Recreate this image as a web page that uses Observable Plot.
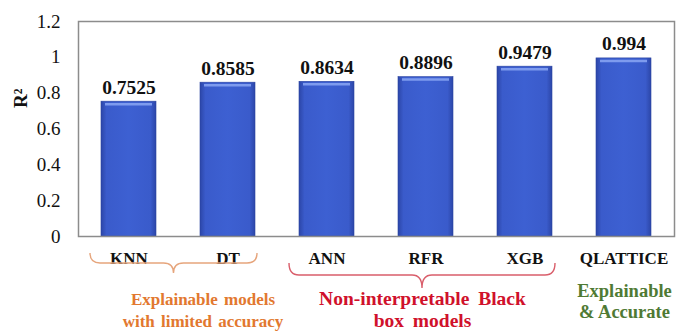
<!DOCTYPE html>
<html>
<head>
<meta charset="utf-8">
<script src="https://cdn.jsdelivr.net/npm/d3@7"></script>
<script src="https://cdn.jsdelivr.net/npm/@observablehq/plot@0.6"></script>
<style>
  html, body { margin: 0; padding: 0; background: #fff; }
  #chart { width: 679px; height: 331px; }
</style>
</head>
<body>
<div id="chart"></div>
<script>
// Model names and their coefficient of determination
const models = ["KNN", "DT", "ANN", "RFR", "XGB", "QLATTICE"];
const r2 = [0.7525, 0.8585, 0.8634, 0.8896, 0.9479, 0.994];
const yTicks = [0, 0.2, 0.4, 0.6, 0.8, 1, 1.2];

// Model families shown below the axis
const groupLines = [
  ["Explainable models", "with limited accuracy"],
  ["Non-interpretable Black", "box models"],
  ["Explainable", "& Accurate"]
];
const groupFrom = ["KNN", "ANN", "QLATTICE"];
const groupTo = ["DT", "XGB", "QLATTICE"];

// Presentation of each family label (brace geometry in px below the axis)
const groupStyle = [
  {color: "#E2782F", brace: "#E6A57C", size: 17, wordSpacing: 2, dx: 25, base: 69, lead: 22,
   braceTop: 17, braceMid: 27, braceTip: 37, extL: 11, extR: 2},
  {color: "#D0112B", brace: "#D95E6B", size: 19.5, wordSpacing: 4, dx: -3, base: 69, lead: 22,
   braceTop: 27, braceMid: 39, braceTip: 52, extL: 10, extR: 3},
  {color: "#4F7A34", brace: null, size: 18.5, wordSpacing: 0, dx: 1, base: 61, lead: 21}
];

const data = models.map((m, i) => ({model: m, r2: r2[i]}));
const serif = "'Liberation Serif', 'Times New Roman', Times, serif";

// Gradient used to give the bars their shaded look
function gradientDefs(index, scales, values, dimensions, context) {
  const defs = d3.create("svg:defs");
  const g = defs.append("linearGradient").attr("id", "barShade")
    .attr("x1", "0").attr("x2", "1").attr("y1", "0").attr("y2", "0");
  [["0%", "#2C46A8"], ["10%", "#3A5BCB"], ["50%", "#3D60D2"], ["90%", "#3A5BCB"], ["100%", "#2C46A8"]]
    .forEach(([o, c]) => g.append("stop").attr("offset", o).attr("stop-color", c));
  return defs.node();
}

// Braces and family captions under the model names
function familyLabels(index, scales, values, dimensions, context) {
  const x = scales.x;
  const bw = x.bandwidth();
  const bottom = dimensions.height - dimensions.marginBottom;
  const g = d3.create("svg:g").attr("font-family", serif).attr("font-weight", "bold");
  groupLines.forEach((lines, i) => {
    const st = groupStyle[i];
    const x0 = x(groupFrom[i]);
    const x1 = x(groupTo[i]) + bw;
    const cx = (x0 + x1) / 2;
    if (st.brace) {
      const a = x0 - st.extL, b = x1 + st.extR, m = (a + b) / 2;
      const yt = bottom + st.braceTop, ym = bottom + st.braceMid, yp = bottom + st.braceTip;
      const r = 10;
      const path = `M${a},${yt} Q${a},${ym} ${a + r},${ym} L${m - r},${ym} Q${m},${ym} ${m},${yp}` +
                   ` Q${m},${ym} ${m + r},${ym} L${b - r},${ym} Q${b},${ym} ${b},${yt}`;
      g.append("path").attr("d", path).attr("fill", "none")
        .attr("stroke", st.brace).attr("stroke-width", 1.4);
    }
    const t = g.append("text").attr("fill", st.color).attr("font-size", st.size)
      .attr("text-anchor", "middle").style("word-spacing", st.wordSpacing + "px");
    lines.forEach((line, j) => {
      t.append("tspan").attr("x", cx + st.dx).attr("y", bottom + st.base + j * st.lead).text(line);
    });
  });
  return g.node();
}

const plot = Plot.plot({
  width: 679,
  height: 331,
  marginTop: 21,
  marginRight: 5,
  marginBottom: 95,
  marginLeft: 78,
  style: {fontFamily: serif, background: "#fff", color: "#111", overflow: "visible"},
  x: {domain: models, paddingInner: 0.446, paddingOuter: 0.223, label: null},
  y: {domain: [0, 1.2], label: null},
  marks: [
    gradientDefs,
    Plot.barY(data, {x: "model", y: "r2", fill: "url(#barShade)", stroke: "#2A43A0", strokeWidth: 0.6}),
    Plot.tickY(data, {x: "model", y: "r2", dy: 2.5, stroke: "#7E9BEE", strokeWidth: 2.5, insetLeft: 4, insetRight: 4}),
    Plot.text(data, {x: "model", y: "r2", text: d => String(d.r2), dy: -8, lineAnchor: "bottom",
      fontWeight: "bold", fontSize: 19.5, fill: "#111"}),
    Plot.frame({stroke: "#8C8C8C", strokeWidth: 1.5}),
    Plot.axisY({ticks: yTicks, tickFormat: d => String(d), tickSize: 0, tickPadding: 18,
      fontSize: 19, label: null}),
    Plot.axisX({tickSize: 0, tickPadding: 15, fontSize: 17, fontWeight: "bold", label: null}),
    Plot.text(["R²"], {frameAnchor: "left", dx: -58, dy: -21, rotate: -90,
      fontWeight: "bold", fontSize: 19, fill: "#111"}),
    familyLabels
  ]
});

document.getElementById("chart").appendChild(plot);
</script>
</body>
</html>
